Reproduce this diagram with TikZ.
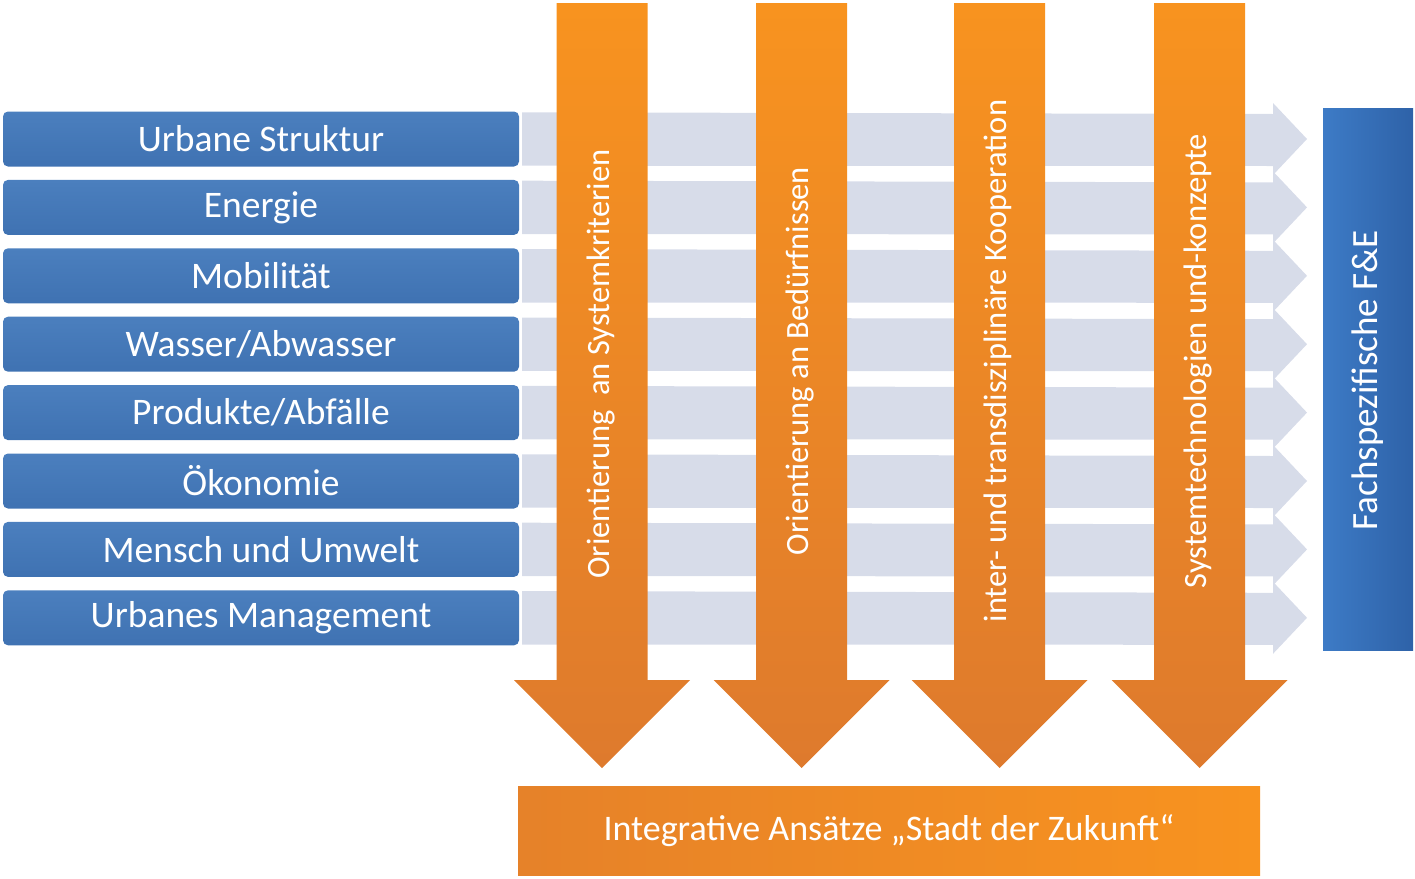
\documentclass[tikz,border=0pt]{standalone}
\usepackage{fontspec}
\setmainfont{Carlito}
\definecolor{boxblue}{HTML}{4B7FBE}
\definecolor{boxblueb}{HTML}{3F72B2}
\definecolor{rowgray}{HTML}{D7DCE9}
\definecolor{orangetop}{HTML}{F8931F}
\definecolor{orangebot}{HTML}{DE7A2D}
\definecolor{fublue}{HTML}{3D7BC6}
\definecolor{fubluer}{HTML}{2E62A8}
\tikzset{
  rowbox/.style={rectangle, rounded corners=5pt, minimum width=516pt, minimum height=55pt,
    top color=boxblue, bottom color=boxblueb, text=white, font=\fontsize{37.5}{42}\selectfont, inner sep=0pt},
  rowarrow/.style={fill=rowgray},
  downarrow/.style={top color=orangetop, bottom color=orangebot},
  arrowtext/.style={rotate=90, text=white, font=\fontsize{32.5}{36}\selectfont, inner sep=0pt},
  fubox/.style={rectangle, minimum width=90pt, minimum height=542pt, left color=fublue, right color=fubluer, inner sep=0pt},
  basebox/.style={rectangle, minimum width=742pt, minimum height=89pt, left color=orangebot!70!orangetop, right color=orangetop, text=white, font=\fontsize{36}{40}\selectfont, inner sep=0pt}
}
\begin{document}
\begin{tikzpicture}[x=1pt,y=-1pt]
\useasboundingbox (0,0) rectangle (1415,878);
% right box
\node[fubox] (fu) at (1368,379) {};
% row boxes and grey arrows
\foreach \i/\t in {1/{Urbane Struktur},2/{Energie},3/{Mobilität},4/{Wasser/Abwasser},5/{Produkte/Abfälle},6/{Ökonomie},7/{Mensch und Umwelt},8/{Urbanes Management}}{
  \pgfmathsetmacro{\yc}{139+68.4*(\i-1)}
  \node[rowbox] (r\i) at (261,\yc) {\t};
  \fill[rowarrow] ([xshift=3pt,yshift=-1pt]r\i.north east) -- (1273,\yc-25) -- (1273,\yc-36) -- (1307,\yc) -- (1273,\yc+36) -- (1273,\yc+27) -- ([xshift=3pt,yshift=1pt]r\i.south east) -- cycle;
}
% orange arrows
\foreach \k/\cx in {1/602,2/801.5,3/999.5,4/1199.5}{
  \path[downarrow] (\cx-45.5,3) -- (\cx+45.5,3) -- (\cx+45.5,680) -- (\cx+88,680) -- (\cx,768) -- (\cx-88,680) -- (\cx-45.5,680) -- cycle;
  \coordinate (a\k) at (\cx,364);
}
\node[arrowtext] (t1) at (601,364) {Orientierung\ \ an Systemkriterien};
\node[arrowtext] (t2) at (800,361) {Orientierung an Bedürfnissen};
\node[arrowtext] (t3) at (998,361) {inter- und transdisziplinäre Kooperation};
\node[arrowtext] (t4) at (1198,361) {Systemtechnologien und-konzepte};
\node[arrowtext, font=\fontsize{37}{40}\selectfont] (tf) at (1368,380) {Fachspezifische F\&E};
% base box
\node[basebox] (base) at (889,831) {Integrative Ansätze „Stadt der Zukunft“};
\end{tikzpicture}
\end{document}
